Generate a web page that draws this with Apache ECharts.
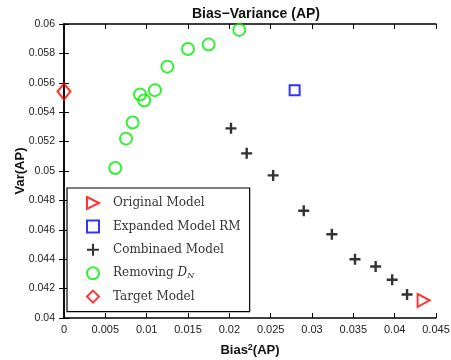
<!DOCTYPE html>
<html>
<head>
<meta charset="utf-8">
<script src="https://cdn.jsdelivr.net/npm/echarts@6/dist/echarts.min.js"></script>
<style>
  html, body { margin: 0; padding: 0; background: #fff; }
  #chart { width: 451px; height: 360px; }
</style>
</head>
<body>
<div id="chart"></div>
<script>
// values: [bias^2, var]
const originalModel = [[0.0435, 0.0412]];
const expandedModel = [[0.0279, 0.0555]];
const combinedModel = [
  [0.0202, 0.0529], [0.0221, 0.0512], [0.0253, 0.0497], [0.0290, 0.0473],
  [0.0324, 0.0457], [0.0352, 0.0440], [0.0377, 0.0435], [0.0397, 0.0426],
  [0.0415, 0.0416]
];
const removingDN = [
  [0.0062, 0.0502], [0.0075, 0.0522], [0.0083, 0.0533], [0.0092, 0.0552],
  [0.0097, 0.0548], [0.0110, 0.0555], [0.0125, 0.0571], [0.0150, 0.0583],
  [0.0175, 0.0586], [0.0212, 0.0596]
];
const targetModel = [[0, 0.0554]];

const legendNames = ['Original Model', 'Expanded Model RM', 'Combinaed Model', 'Removing D_N', 'Target Model'];

const chart = echarts.init(document.getElementById('chart'));

const fmt = v => String(+v.toFixed(4));
const nameFont = {
  fontSize: 13, fontWeight: 'bold', color: '#111', fontFamily: 'Liberation Sans',
  rich: { sup: { fontSize: 9, fontWeight: 'bold', color: '#111', fontFamily: 'Liberation Sans', verticalAlign: 'top', padding: [0, 0, 6, 0] } }
};

const triRight = 'path://M0,0 L10,5 L0,10 Z';
const plus = 'path://M0,5 L10,5 M5,0 L5,10';

function hollow(color, w) {
  return { color: 'rgba(0,0,0,0)', borderColor: color, borderWidth: w || 2 };
}

const option = {
  animation: false,
  backgroundColor: '#fff',
  title: {
    text: 'Bias\u2212Variance (AP)',
    left: 251, top: 2, textAlign: 'center',
    textStyle: { fontSize: 14, fontWeight: 'bold', color: '#111', fontFamily: 'Liberation Sans' }
  },
  grid: { left: 64, right: 15, top: 24, bottom: 42, containLabel: false, outerBoundsMode: 'none' },
  xAxis: [
    {
      type: 'value', min: 0, max: 0.045, interval: 0.005,
      name: 'Bias{sup|2}(AP)', nameLocation: 'middle', nameGap: 25,
      nameTextStyle: nameFont,
      axisLine: { lineStyle: { color: '#000', width: 1.5 } },
      axisTick: { inside: true, length: 5, lineStyle: { color: '#000' } },
      axisLabel: { formatter: fmt, margin: 6, color: '#222', fontSize: 11, fontFamily: 'Liberation Sans' },
      splitLine: { show: false }
    },
    {
      type: 'value', position: 'top', min: 0, max: 0.045, interval: 0.005,
      axisLine: { lineStyle: { color: '#000', width: 1.5 } },
      axisTick: { inside: true, length: 5, lineStyle: { color: '#000' } },
      axisLabel: { show: false }, splitLine: { show: false }
    }
  ],
  yAxis: [
    {
      type: 'value', min: 0.04, max: 0.06, interval: 0.002,
      name: 'Var(AP)', nameLocation: 'middle', nameGap: 37, nameMoveOverlap: false,
      nameTextStyle: nameFont,
      axisLine: { show: true, lineStyle: { color: '#000', width: 1.5 } },
      axisTick: { show: true, inside: true, length: 5, lineStyle: { color: '#000' } },
      axisLabel: { formatter: fmt, margin: 9, color: '#222', fontSize: 10.5, fontFamily: 'Liberation Sans' },
      splitLine: { show: false }
    },
    {
      type: 'value', position: 'right', min: 0.04, max: 0.06, interval: 0.002,
      axisLine: { show: true, lineStyle: { color: '#000', width: 1.5 } },
      axisTick: { show: true, inside: true, length: 5, lineStyle: { color: '#000' } },
      axisLabel: { show: false }, splitLine: { show: false }
    }
  ],
  legend: {
    orient: 'vertical', left: 67, top: 188,
    padding: [8, 9, 8, 19],
    itemWidth: 12, itemHeight: 12, itemGap: 9.4,
    backgroundColor: '#fff',
    borderColor: '#000', borderWidth: 1.2,
    data: [
      { name: legendNames[0], icon: triRight },
      { name: legendNames[1], icon: 'rect' },
      { name: legendNames[2], icon: plus },
      { name: legendNames[3], icon: 'circle' },
      { name: legendNames[4], icon: 'diamond' }
    ],
    formatter: n => n === 'Removing D_N' ? 'Removing {i|D}{s|N}' : n,
    textStyle: {
      fontFamily: 'DejaVu Serif', fontSize: 12, lineHeight: 12, color: '#333', padding: [0, 0, 0, 9],
      rich: {
        i: { fontFamily: 'DejaVu Serif', fontStyle: 'italic', fontSize: 12, lineHeight: 12, color: '#333' },
        s: { fontFamily: 'DejaVu Serif', fontStyle: 'italic', fontSize: 8, lineHeight: 12, color: '#333', padding: [6, 0, 0, 0] }
      }
    }
  },
  series: [
    {
      name: legendNames[0], type: 'scatter', data: originalModel,
      symbol: triRight, symbolSize: [12, 13], itemStyle: hollow('#ff0000')
    },
    {
      name: legendNames[1], type: 'scatter', data: expandedModel,
      symbol: 'rect', symbolSize: 10, itemStyle: hollow('#0000ff')
    },
    {
      name: legendNames[2], type: 'scatter', data: combinedModel,
      symbol: plus, symbolSize: 11, itemStyle: hollow('#000000', 2.4)
    },
    {
      name: legendNames[3], type: 'scatter', data: removingDN,
      symbol: 'circle', symbolSize: 12, itemStyle: hollow('#00ee00')
    },
    {
      name: legendNames[4], type: 'scatter', data: targetModel,
      symbol: 'diamond', symbolSize: [13, 16], itemStyle: hollow('#ff0000')
    }
  ]
};

chart.setOption(option);
</script>
</body>
</html>
